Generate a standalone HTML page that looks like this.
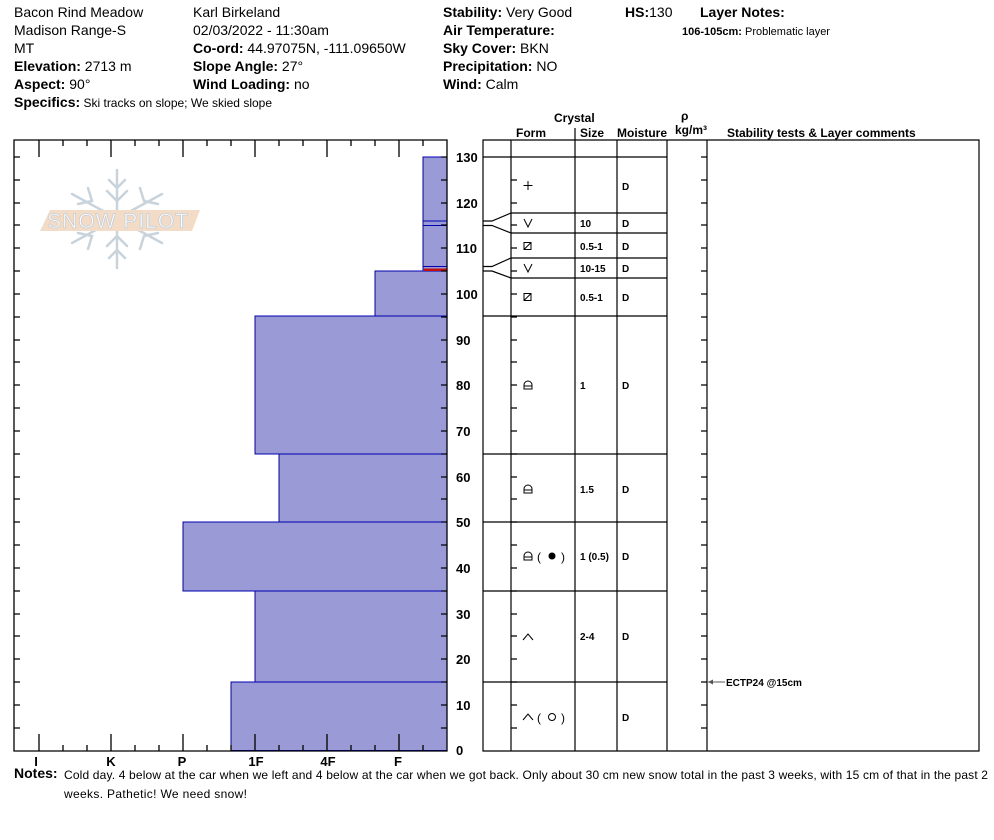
<!DOCTYPE html>
<html><head><meta charset="utf-8"><style>
html,body{margin:0;padding:0;background:#fff;}
svg{display:block;font-family:"Liberation Sans",Arial,sans-serif;}
</style></head><body>
<svg width="994" height="840" viewBox="0 0 994 840" xmlns="http://www.w3.org/2000/svg">
<g font-size="14" fill="#000">
<text x="14" y="17">Bacon Rind Meadow</text>
<text x="14" y="35">Madison Range-S</text>
<text x="14" y="53">MT</text>
<text x="14" y="71"><tspan font-weight="bold">Elevation:</tspan> 2713 m</text>
<text x="14" y="89"><tspan font-weight="bold">Aspect:</tspan> 90°</text>
<text x="14" y="107"><tspan font-weight="bold">Specifics:</tspan><tspan font-size="12"> Ski tracks on slope; We skied slope</tspan></text>
<text x="193" y="17">Karl Birkeland</text>
<text x="193" y="35">02/03/2022 - 11:30am</text>
<text x="193" y="53"><tspan font-weight="bold">Co-ord:</tspan> 44.97075N, -111.09650W</text>
<text x="193" y="71"><tspan font-weight="bold">Slope Angle:</tspan> 27°</text>
<text x="193" y="89"><tspan font-weight="bold">Wind Loading:</tspan> no</text>
<text x="443" y="17"><tspan font-weight="bold">Stability:</tspan> Very Good</text>
<text x="443" y="35" font-weight="bold">Air Temperature:</text>
<text x="443" y="53"><tspan font-weight="bold">Sky Cover:</tspan> BKN</text>
<text x="443" y="71"><tspan font-weight="bold">Precipitation:</tspan> NO</text>
<text x="443" y="89"><tspan font-weight="bold">Wind:</tspan>  Calm</text>
<text x="625" y="17"><tspan font-weight="bold">HS:</tspan>130</text>
<text x="700" y="17" font-weight="bold">Layer Notes:</text>
<text x="682" y="35" font-size="11"><tspan font-weight="bold">106-105cm:</tspan> Problematic layer</text>
</g>
<!-- logo -->
<g stroke="#c9d3dc" stroke-width="2.5" fill="none" stroke-linecap="round">
<line x1="117" y1="170" x2="117" y2="268"/>
<line x1="72" y1="194" x2="162" y2="243"/>
<line x1="72" y1="243" x2="162" y2="194"/>
<path d="M109 180 L117 188 L125 180 M107 191 L117 201 L127 191 M109 258 L117 250 L125 258 M107 246 L117 236 L127 246"/>
<path d="M78 204 L92 201 L88 188 M140 188 L144 201 L158 204 M78 233 L92 236 L88 249 M140 249 L144 236 L158 233"/>
</g>
<polygon points="50,210 200,210 192,231 40,231" fill="#f2dcc7"/>
<text x="118" y="228" font-size="21" text-anchor="middle" fill="#fff" stroke="#c9cdd2" stroke-width="0.8" letter-spacing="1">SNOW PILOT</text>
<!-- hardness bars -->
<g fill="#9a9ad6" stroke="#0000b0" stroke-width="1">
<rect x="231" y="682" width="216" height="68.5"/>
<rect x="255" y="591" width="192" height="91"/>
<rect x="183" y="522" width="264" height="69"/>
<rect x="279" y="454" width="168" height="68"/>
<rect x="255" y="316" width="192" height="138"/>
<rect x="375" y="271" width="72" height="45"/>
<rect x="423" y="157" width="24" height="114"/>
</g>
<line x1="423" y1="221" x2="447" y2="221" stroke="#0000b0"/>
<line x1="423" y1="225.5" x2="447" y2="225.5" stroke="#0000b0"/>
<line x1="423" y1="266.5" x2="447" y2="266.5" stroke="#0000b0"/>
<rect x="423" y="268.5" width="24" height="2.5" fill="#c01010"/>
<!-- left frame -->
<g stroke="#000" stroke-width="1.3" fill="none">
<path d="M14 140 H447 V751 H14 Z"/>
<path d="M39 140v17M63 140v6M87 140v6M111 140v17M135 140v6M159 140v6M183 140v17M207 140v6M231 140v6M255 140v17M279 140v6M303 140v6M327 140v17M351 140v6M375 140v6M399 140v17M423 140v6"/>
<path d="M39 751v-17M63 751v-6M87 751v-6M111 751v-17M135 751v-6M159 751v-6M183 751v-17M207 751v-6M231 751v-6M255 751v-17M279 751v-6M303 751v-6M327 751v-17M351 751v-6M375 751v-6M399 751v-17M423 751v-6"/>
<path d="M14 157h6M14 180h6M14 203h6M14 225h6M14 248h6M14 271h6M14 294h6M14 317h6M14 340h6M14 362h6M14 385h6M14 408h6M14 431h6M14 454h6M14 477h6M14 499h6M14 522h6M14 545h6M14 568h6M14 591h6M14 614h6M14 636h6M14 659h6M14 682h6M14 705h6M14 728h6"/>
<path d="M447 157h-6M447 180h-6M447 203h-6M447 225h-6M447 248h-6M447 271h-6M447 294h-6M447 317h-6M447 340h-6M447 362h-6M447 385h-6M447 408h-6M447 431h-6M447 454h-6M447 477h-6M447 499h-6M447 522h-6M447 545h-6M447 568h-6M447 591h-6M447 614h-6M447 636h-6M447 659h-6M447 682h-6M447 705h-6M447 728h-6"/>
</g>
<g font-size="13" font-weight="bold" fill="#000">
<text x="456" y="162">130</text><text x="456" y="208">120</text><text x="456" y="253">110</text><text x="456" y="299">100</text>
<text x="456" y="345">90</text><text x="456" y="390">80</text><text x="456" y="436">70</text><text x="456" y="482">60</text>
<text x="456" y="527">50</text><text x="456" y="573">40</text><text x="456" y="619">30</text><text x="456" y="664">20</text>
<text x="456" y="710">10</text><text x="456" y="755">0</text>
</g>
<g font-size="13" font-weight="bold" text-anchor="middle">
<text x="36" y="766">I</text><text x="111" y="766">K</text><text x="182" y="766">P</text><text x="256" y="766">1F</text><text x="328" y="766">4F</text><text x="398" y="766">F</text>
</g>
<text x="14" y="778" font-size="14" font-weight="bold">Notes:</text>
<text x="64" y="779" font-size="12" textLength="924" lengthAdjust="spacing">Cold day.  4 below at the car when we left and 4 below at the car when we got back.  Only about 30 cm new snow total in the past 3 weeks, with 15 cm  of that in the past 2</text>
<text x="64" y="798" font-size="12" textLength="183" lengthAdjust="spacing">weeks.  Pathetic!  We need snow!</text>
<!-- table headers -->
<g font-size="12" font-weight="bold">
<text x="554" y="122">Crystal</text>
<text x="516" y="137">Form</text>
<text x="580" y="137">Size</text>
<text x="617" y="137">Moisture</text>
<text x="681" y="120">ρ</text>
<text x="675" y="134">kg/m³</text>
<text x="727" y="137">Stability tests &amp; Layer comments</text>
</g>
<g stroke="#000" stroke-width="1.2" fill="none">
<path d="M575 128v12"/>
<path d="M483 140H979V751H483Z"/>
<path d="M511 140V751M575 140V751M617 140V751M667 140V751M707 140V751"/>
<path d="M483 157H667M511 213H667M511 233H667M511 258H667M511 278H667M483 316H667M483 454H667M483 522H667M483 591H667M483 682H667"/>
<path d="M483 221H492L511 213M483 225.5H492L511 233M483 266.5H492L511 258M483 271H492L511 278"/>
<path d="M511 180h6M511 203h6M511 225h6M511 248h6M511 271h6M511 294h6M511 317h6M511 340h6M511 362h6M511 385h6M511 408h6M511 431h6M511 454h6M511 477h6M511 499h6M511 522h6M511 545h6M511 568h6M511 591h6M511 614h6M511 636h6M511 659h6M511 682h6M511 705h6M511 728h6"/>
<path d="M707 157h-6M707 180h-6M707 203h-6M707 225h-6M707 248h-6M707 271h-6M707 294h-6M707 317h-6M707 340h-6M707 362h-6M707 385h-6M707 408h-6M707 431h-6M707 454h-6M707 477h-6M707 499h-6M707 522h-6M707 545h-6M707 568h-6M707 591h-6M707 614h-6M707 636h-6M707 659h-6M707 682h-6M707 705h-6M707 728h-6"/>
</g>
<!-- symbols -->
<g stroke="#000" stroke-width="1" fill="none">
<path d="M528 181v9M523.5 185.5h9"/>
<path d="M524 219l4 8l4 -8M524 264l4 8l4 -8"/>
<rect x="524" y="242.5" width="7" height="7"/><path d="M524 249.5l7-7"/>
<rect x="524" y="293.5" width="7" height="7"/><path d="M524 300.5l7-7"/>
<path d="M524 389v-4a4 4 0 0 1 8 0v4zM524 386h8"/>
<path d="M524 493v-4a4 4 0 0 1 8 0v4zM524 490h8"/>
<path d="M524 560v-4a4 4 0 0 1 8 0v4zM524 557h8"/>
<path d="M523 640l5-6l5 6M523 720l5-6l5 6"/>
<circle cx="552" cy="717" r="3.5"/>
</g>
<circle cx="552" cy="556" r="3.5" fill="#000"/>
<g font-size="12"><text x="537" y="561">(</text><text x="561" y="561">)</text><text x="537" y="722">(</text><text x="561" y="722">)</text></g>
<g font-size="10" font-weight="bold">
<text x="580" y="227">10</text><text x="580" y="250">0.5-1</text><text x="580" y="272">10-15</text><text x="580" y="301">0.5-1</text>
<text x="580" y="389">1</text><text x="580" y="493">1.5</text><text x="580" y="560">1 (0.5)</text><text x="580" y="640">2-4</text>
<text x="622" y="190">D</text><text x="622" y="227">D</text><text x="622" y="250">D</text><text x="622" y="272">D</text><text x="622" y="301">D</text>
<text x="622" y="389">D</text><text x="622" y="493">D</text><text x="622" y="560">D</text><text x="622" y="640">D</text><text x="622" y="721">D</text>
<text x="726" y="686">ECTP24 @15cm</text>
</g>
<path d="M708 682h17" stroke="#555" stroke-width="1"/>
<path d="M708 682l5-2.5v5z" fill="#555"/>
</svg>
</body></html>
